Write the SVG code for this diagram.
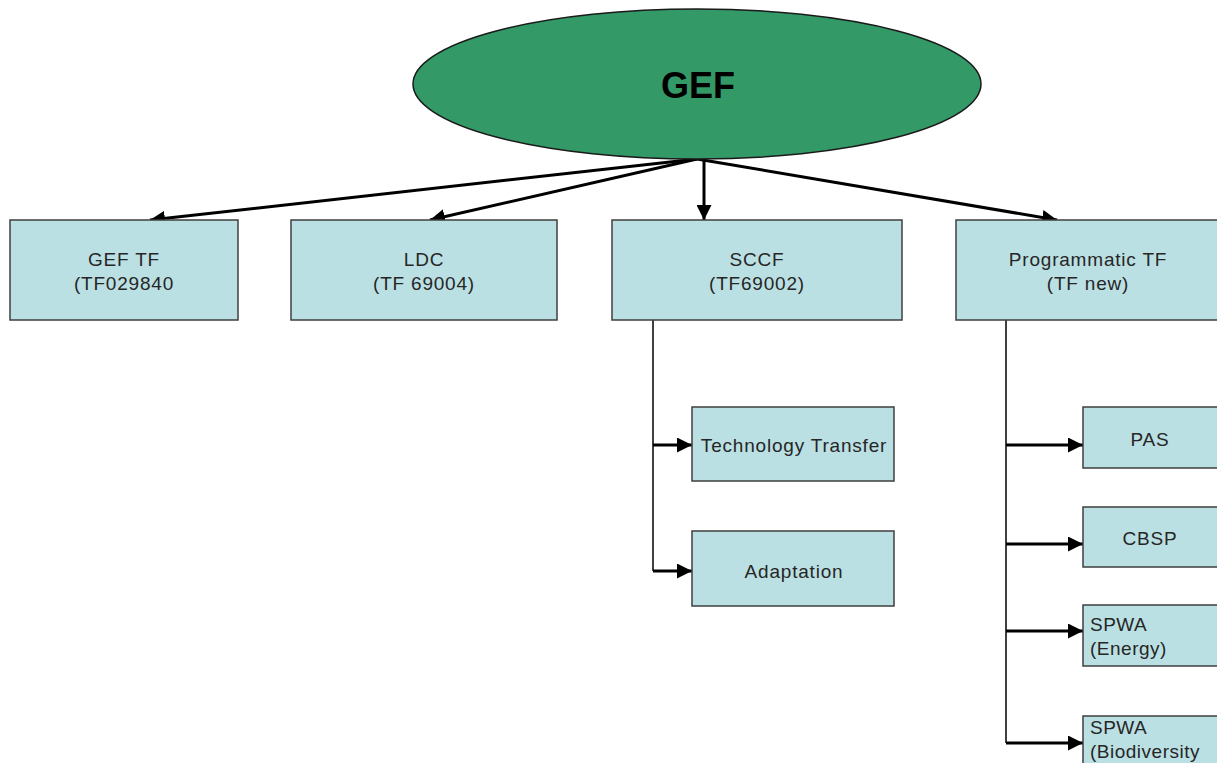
<svg xmlns="http://www.w3.org/2000/svg" width="1217" height="763" viewBox="0 0 1217 763">
<style>
.box{fill:#bbe0e3;stroke:#3f3f3f;stroke-width:1.5}
.t{font-family:"Liberation Sans",Arial,sans-serif;font-size:19px;letter-spacing:0.8px;fill:#262626;text-anchor:middle}
.tl{font-family:"Liberation Sans",Arial,sans-serif;font-size:19px;letter-spacing:0.5px;fill:#262626}
.c{fill:none;stroke:#000;stroke-width:3;marker-end:url(#ah)}
.c1{fill:none;stroke:#000;stroke-width:1.5}
</style>
<defs>
<marker id="ah" viewBox="0 0 10 10" refX="10" refY="5" markerWidth="5" markerHeight="5" orient="auto" markerUnits="strokeWidth">
<path d="M0,0 L10,5 L0,10 z" fill="#000"/>
</marker>
</defs>
<rect width="1217" height="763" fill="#fff"/>
<g id="connectors">
<line class="c" x1="697" y1="159" x2="150" y2="220"/>
<line class="c" x1="697" y1="159" x2="430" y2="220"/>
<line class="c" x1="704" y1="159" x2="704" y2="220"/>
<line class="c" x1="697" y1="159" x2="1057" y2="220"/>
<polyline class="c1" points="653,320 653,571"/>
<line class="c" x1="653" y1="445" x2="692" y2="445"/>
<line class="c" x1="653" y1="571" x2="692" y2="571"/>
<polyline class="c1" points="1006,320 1006,743"/>
<line class="c" x1="1006" y1="445" x2="1083" y2="445"/>
<line class="c" x1="1006" y1="544" x2="1083" y2="544"/>
<line class="c" x1="1006" y1="631" x2="1083" y2="631"/>
<line class="c" x1="1006" y1="743" x2="1083" y2="743"/>
</g>
<g id="gef">
<ellipse cx="697" cy="84" rx="284" ry="75" fill="#339966" stroke="#1a1a1a" stroke-width="1.5"/>
<text x="698" y="98" font-family="Liberation Sans,Arial,sans-serif" font-size="36" font-weight="bold" fill="#000" text-anchor="middle">GEF</text>
</g>
<g id="geftf">
<rect class="box" x="10" y="220" width="228" height="100"/>
<text class="t" x="124" y="266">GEF TF</text>
<text class="t" x="124" y="290">(TF029840</text>
</g>
<g id="ldc">
<rect class="box" x="291" y="220" width="266" height="100"/>
<text class="t" x="424" y="266">LDC</text>
<text class="t" x="424" y="290">(TF 69004)</text>
</g>
<g id="sccf">
<rect class="box" x="612" y="220" width="290" height="100"/>
<text class="t" x="757" y="266">SCCF</text>
<text class="t" x="757" y="290">(TF69002)</text>
</g>
<g id="programmatic">
<rect class="box" x="956" y="220" width="270" height="100"/>
<text class="t" x="1088" y="266">Programmatic TF</text>
<text class="t" x="1088" y="290">(TF new)</text>
</g>
<g id="techtransfer">
<rect class="box" x="692" y="407" width="202" height="74"/>
<text class="t" x="794" y="452">Technology Transfer</text>
</g>
<g id="adaptation">
<rect class="box" x="692" y="531" width="202" height="75"/>
<text class="t" x="794" y="578">Adaptation</text>
</g>
<g id="pas">
<rect class="box" x="1083" y="407" width="140" height="61"/>
<text class="t" x="1150" y="446">PAS</text>
</g>
<g id="cbsp">
<rect class="box" x="1083" y="507" width="140" height="60"/>
<text class="t" x="1150" y="545">CBSP</text>
</g>
<g id="spwa-energy">
<rect class="box" x="1083" y="605" width="140" height="61"/>
<text class="tl" x="1090" y="631">SPWA</text>
<text class="tl" x="1090" y="655">(Energy)</text>
</g>
<g id="spwa-bio">
<rect class="box" x="1083" y="716" width="140" height="60"/>
<text class="tl" x="1090" y="734">SPWA</text>
<text class="tl" x="1090" y="758">(Biodiversity</text>
</g>
</svg>
